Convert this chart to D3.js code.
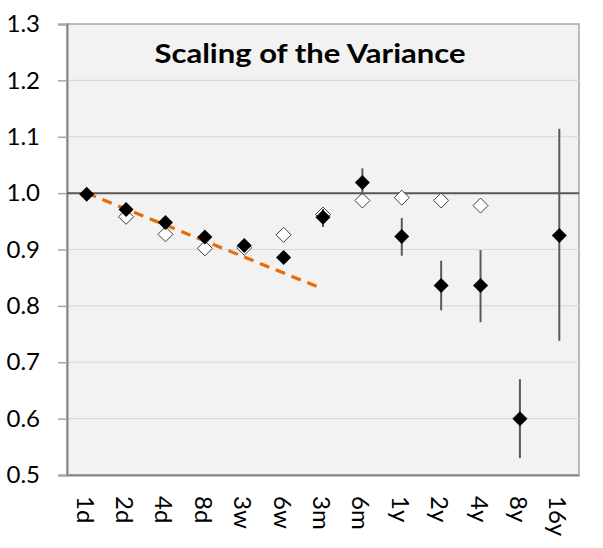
<!DOCTYPE html>
<html>
<head>
<meta charset="utf-8">
<script src="https://cdn.jsdelivr.net/npm/d3@7"></script>
<style>
body { margin: 0; background: #fff; }
text { font-family: Lato, "Open Sans", sans-serif; }
</style>
</head>
<body>
<div id="chart"></div>
<script>
// Scaling of the variance chart.

var categories = ["1d", "2d", "4d", "8d", "3w", "6w", "3m", "6m", "1y", "2y", "4y", "8y", "16y"];
var filledVal  = [0.998, 0.971, 0.948, 0.922, 0.907, 0.886, 0.957, 1.019, 0.923, 0.836, 0.836, 0.600, 0.925];
var errLow     = [null, null, null, null, null, null, 0.940, 0.997, 0.889, 0.792, 0.771, 0.530, 0.738];
var errHigh    = [null, null, null, null, null, null, 0.972, 1.044, 0.956, 0.880, 0.899, 0.670, 1.114];
var hollowVal  = [null, 0.958, 0.927, 0.902, 0.903, 0.926, 0.962, 0.987, 0.992, 0.987, 0.978, null, null];
var trendCats  = ["1d", "3m"];
var trendVal   = [1.0, 0.83];
var yTicks     = [0.5, 0.6, 0.7, 0.8, 0.9, 1.0, 1.1, 1.2, 1.3];

var chart = {
    param: {
	width: 603,
	height: 548,
	left: 67,
	right: 579,
	top: 24,
	bottom: 475,
	diamond: 7.5,
	title: "Scaling of the Variance"
    },

    init: function(){
	var param = chart.param;
	var svg = d3.select("#chart").append("svg")
	    .attr("width", param.width)
	    .attr("height", param.height);

	var x = d3.scaleBand().domain(categories).range([param.left, param.right]);
	var y = d3.scaleLinear().domain([0.5, 1.3]).range([param.bottom, param.top]);
	var cx = function(c){ return x(c) + x.bandwidth() / 2; };

	// plot area
	svg.append("rect")
	    .attr("x", param.left).attr("y", param.top)
	    .attr("width", param.right - param.left)
	    .attr("height", param.bottom - param.top)
	    .attr("fill", "#f2f2f2")
	    .attr("stroke", "#a6a6a6").attr("stroke-width", 1.5);

	// grid
	svg.append("g").selectAll("line").data(yTicks.slice(1, -1)).join("line")
	    .attr("x1", param.left).attr("x2", param.right)
	    .attr("y1", d => y(d)).attr("y2", d => y(d))
	    .attr("stroke", "#d9d9d9").attr("stroke-width", 1.2);

	// y axis
	var yAxis = svg.append("g")
	    .attr("transform", "translate(" + param.left + ",0)")
	    .call(d3.axisLeft(y).tickValues(yTicks).tickFormat(d3.format(".1f")).tickSize(9).tickPadding(18));
	yAxis.select(".domain").attr("stroke", "#868686").attr("stroke-width", 2);
	yAxis.selectAll(".tick line").attr("stroke", "#a6a6a6").attr("stroke-width", 1.5);
	yAxis.selectAll("text").attr("font-size", 24).attr("fill", "#000")
	    .style("font-family", "Lato, 'Open Sans', sans-serif");

	// x axis
	var xAxis = svg.append("g")
	    .attr("transform", "translate(0," + param.bottom + ")")
	    .call(d3.axisBottom(x).tickSize(0).tickPadding(0));
	xAxis.select(".domain").attr("stroke", "#868686").attr("stroke-width", 2);
	xAxis.selectAll("text")
	    .attr("font-size", 24).attr("fill", "#000")
	    .style("font-family", "Lato, 'Open Sans', sans-serif")
	    .attr("text-anchor", "start")
	    .attr("dy", null).attr("y", 0)
	    .attr("transform", "translate(-10,21) rotate(90)");

	// line at 1.0
	svg.append("line")
	    .attr("x1", param.left).attr("x2", param.right)
	    .attr("y1", y(1.0)).attr("y2", y(1.0))
	    .attr("stroke", "#595959").attr("stroke-width", 2);

	// orange trend
	svg.append("line")
	    .attr("x1", cx(trendCats[0])).attr("y1", y(trendVal[0]))
	    .attr("x2", cx(trendCats[1])).attr("y2", y(trendVal[1]))
	    .attr("stroke", "#e46c0a").attr("stroke-width", 3.2)
	    .attr("stroke-dasharray", "10,7");

	// hollow diamonds
	var dpath = function(r){ return "M0," + (-r) + "L" + r + ",0L0," + r + "L" + (-r) + ",0Z"; };
	var hollow = categories.map((c, i) => ({c: c, v: hollowVal[i]})).filter(d => d.v != null);
	svg.append("g").selectAll("path").data(hollow).join("path")
	    .attr("d", dpath(param.diamond))
	    .attr("transform", d => "translate(" + cx(d.c) + "," + y(d.v) + ")")
	    .attr("fill", "#fff").attr("stroke", "#404040").attr("stroke-width", 1);

	// error bars
	var errs = categories.map((c, i) => ({c: c, lo: errLow[i], hi: errHigh[i]})).filter(d => d.lo != null);
	svg.append("g").selectAll("line").data(errs).join("line")
	    .attr("x1", d => cx(d.c)).attr("x2", d => cx(d.c))
	    .attr("y1", d => y(d.hi)).attr("y2", d => y(d.lo))
	    .attr("stroke", "#595959").attr("stroke-width", 2);

	// filled diamonds
	var filled = categories.map((c, i) => ({c: c, v: filledVal[i]}));
	svg.append("g").selectAll("path").data(filled).join("path")
	    .attr("d", dpath(param.diamond))
	    .attr("transform", d => "translate(" + cx(d.c) + "," + y(d.v) + ")")
	    .attr("fill", "#000");

	// title
	svg.append("text")
	    .attr("x", 310).attr("y", 63)
	    .attr("text-anchor", "middle")
	    .attr("font-size", 27).attr("font-weight", "bold")
	    .attr("textLength", 311).attr("lengthAdjust", "spacingAndGlyphs")
	    .text(param.title);
    }
};

chart.init();
</script>
</body>
</html>
